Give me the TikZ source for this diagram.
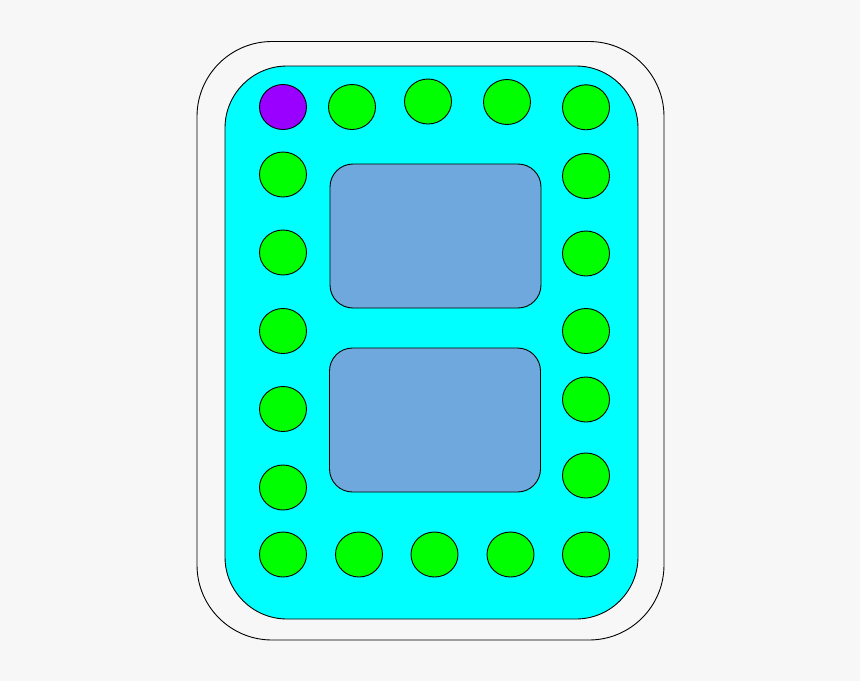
\documentclass[tikz,border=0pt]{standalone}
\usetikzlibrary{shapes.geometric}
\definecolor{bg}{HTML}{F7F7F7}
\definecolor{cyanfill}{HTML}{00FFFF}
\definecolor{greenfill}{HTML}{00FF00}
\definecolor{purplefill}{HTML}{9900FF}
\definecolor{bluefill}{HTML}{6FA8DC}
\begin{document}
\begin{tikzpicture}[x=1pt,y=-1pt,
  dot/.style={ellipse,draw=black,line width=0.9pt,fill=greenfill,inner sep=0pt,minimum width=47pt,minimum height=45pt},
  panel/.style={draw=black,line width=0.9pt,fill=bluefill,rounded corners=23pt}]
\fill[bg] (0,0) rectangle (860,681);
\useasboundingbox (0,0) rectangle (860,681);
\draw[line width=0.9pt,rounded corners=75pt] (197,41.5) rectangle (664,640);
\draw[line width=0.9pt,fill=cyanfill,rounded corners=62pt] (225,66) rectangle (638,619);
\draw[panel] (330,164) rectangle (541,308);
\draw[panel] (329.5,348) rectangle (540.5,492);
% top row
\node[dot,fill=purplefill] (t1) at (283,107) {};
\node[dot] (t2) at (352,107) {};
\node[dot] (t3) at (428,101.5) {};
\node[dot] (t4) at (507,102) {};
\node[dot] (t5) at (586,107.3) {};
% left column
\node[dot] (l1) at (283,174.5) {};
\node[dot] (l2) at (283,252.5) {};
\node[dot] (l3) at (283,331) {};
\node[dot] (l4) at (283,409) {};
\node[dot] (l5) at (283,487.5) {};
% bottom row
\node[dot] (b1) at (283,554.5) {};
\node[dot] (b2) at (359,554.5) {};
\node[dot] (b3) at (434.5,554.5) {};
\node[dot] (b4) at (510.5,554.5) {};
\node[dot] (b5) at (586,554.5) {};
% right column
\node[dot] (r1) at (586,176) {};
\node[dot] (r2) at (586,253.5) {};
\node[dot] (r3) at (586,331) {};
\node[dot] (r4) at (586,399.5) {};
\node[dot] (r5) at (586,475.5) {};
\end{tikzpicture}
\end{document}
